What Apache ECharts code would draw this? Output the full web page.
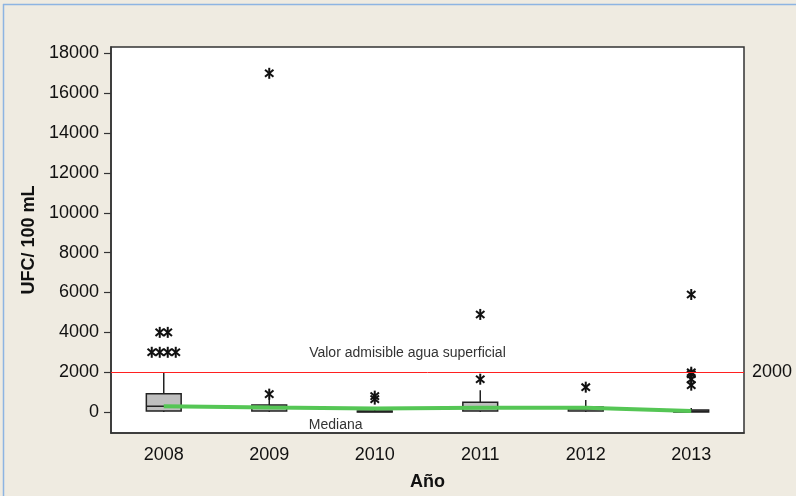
<!DOCTYPE html>
<html>
<head>
<meta charset="utf-8">
<title>UFC / 100 mL por año</title>
<style>
  body { margin: 0; background: #EFEBE1; }
  #chart { width: 796px; height: 496px; }
</style>
</head>
<body>
<div id="chart"></div>
<script src="https://cdn.jsdelivr.net/npm/echarts@6/dist/echarts.min.js"></script>
<script type="text/javascript">
// años (categorias)
var years = ['2008', '2009', '2010', '2011', '2012', '2013'];
// cajas: [min, Q1, mediana, Q3, max]
var boxes = [
  [0, 50, 290, 920, 2000],
  [0, 50, 200, 350, 650],
  [0, 10, 30, 60, 120],
  [0, 50, 200, 490, 1100],
  [0, 50, 150, 260, 600],
  [0, 10, 40, 100, 200]
];
// valores atipicos por año
var outliers = [
  [3000, 3000, 3000, 3000, 4000, 4000],
  [900, 17000],
  [800, 650],
  [1650, 4900],
  [1250],
  [1350, 1650, 1900, 2000, 5900]
];
// linea verde de medianas (dibujada a mano en el original)
var medianLine = [290, 235, 185, 215, 215, 50];
var yTicks = [0, 2000, 4000, 6000, 8000, 10000, 12000, 14000, 16000, 18000];
var limitValue = 2000;

var FONT = 'Liberation Sans';
var TXT = '#111111';

// datos para las series custom
var boxData = boxes.map(function (b, i) { return [i].concat(b); });
var outData = [];
outliers.forEach(function (list, i) {
  var counts = {};
  list.forEach(function (v) { counts[v] = (counts[v] || 0) + 1; });
  var seen = {};
  list.forEach(function (v) {
    var k = seen[v] || 0;
    seen[v] = k + 1;
    // los repetidos se ponen lado a lado, como hace Minitab
    outData.push([i, v, k - (counts[v] - 1) / 2]);
  });
});

var frame = [
  { type: 'line', shape: { x1: 3.5, y1: 4, x2: 3.5, y2: 496 }, style: { stroke: '#8DB4E2', lineWidth: 1.5 } },
  { type: 'line', shape: { x1: 3, y1: 4.5, x2: 796, y2: 4.5 }, style: { stroke: '#8DB4E2', lineWidth: 1.5 } }
];

var myChart = echarts.init(document.getElementById('chart'));
var option = {
  backgroundColor: '#EFEBE1',
  animation: false,
  grid: {
    left: 111, top: 47, right: 52, bottom: 63,
    show: true, backgroundColor: '#ffffff',
    borderColor: '#333333', borderWidth: 1.5
  },
  xAxis: {
    type: 'category',
    data: years,
    boundaryGap: true,
    name: 'Año',
    nameLocation: 'middle',
    nameGap: 40,
    nameTextStyle: { fontFamily: FONT, fontSize: 18, fontWeight: 'bold', color: TXT },
    axisLine: { onZero: false, lineStyle: { color: '#333333', width: 1.5 } },
    axisTick: { alignWithLabel: true, length: 6, lineStyle: { color: '#333333', width: 1.2 } },
    axisLabel: { margin: 13, fontFamily: FONT, fontSize: 18, color: TXT },
    splitLine: { show: false }
  },
  yAxis: {
    type: 'value',
    min: -1050,
    max: 18320,
    name: 'UFC/ 100 mL',
    nameLocation: 'middle',
    nameGap: 72,
    nameTextStyle: { fontFamily: FONT, fontSize: 18, fontWeight: 'bold', color: TXT },
    axisLine: { show: true, lineStyle: { color: '#333333', width: 1.5 } },
    axisTick: { show: true, length: 7, customValues: yTicks, lineStyle: { color: '#333333', width: 1.2 } },
    axisLabel: { margin: 12, customValues: yTicks, fontFamily: FONT, fontSize: 18, color: TXT,
      formatter: function (v) { return String(v); } },
    splitLine: { show: false }
  },
  series: [
    {
      name: 'cajas',
      type: 'custom',
      z: 2,
      encode: { x: 0, y: [1, 2, 3, 4, 5] },
      data: boxData,
      renderItem: function (params, api) {
        var i = api.value(0);
        var pLo = api.coord([i, api.value(1)]);
        var pQ1 = api.coord([i, api.value(2)]);
        var pMed = api.coord([i, api.value(3)]);
        var pQ3 = api.coord([i, api.value(4)]);
        var pHi = api.coord([i, api.value(5)]);
        var w = api.size([1, 0])[0] * 0.33;
        var cx = pQ1[0];
        var st = { stroke: '#222222', lineWidth: 1.5 };
        return {
          type: 'group',
          children: [
            { type: 'line', shape: { x1: cx, y1: pQ1[1], x2: cx, y2: pLo[1] }, style: st },
            { type: 'line', shape: { x1: cx, y1: pQ3[1], x2: cx, y2: pHi[1] }, style: st },
            { type: 'rect', shape: { x: cx - w / 2, y: pQ3[1], width: w, height: pQ1[1] - pQ3[1] },
              style: { fill: '#BFBFBF', stroke: '#222222', lineWidth: 1.5 } },
            { type: 'line', shape: { x1: cx - w / 2, y1: pMed[1], x2: cx + w / 2, y2: pMed[1] }, style: st }
          ]
        };
      }
    },
    {
      name: 'Mediana',
      type: 'line',
      z: 3,
      data: medianLine,
      symbol: 'none',
      lineStyle: { color: '#55C655', width: 4 },
      markLine: {
        silent: true,
        symbol: 'none',
        data: [
          {
            yAxis: limitValue,
            lineStyle: { color: '#FF2020', width: 1, type: 'solid' },
            label: { show: true, position: 'end', distance: 8, formatter: '2000',
              fontFamily: FONT, fontSize: 18, color: TXT }
          }
        ]
      }
    },
    {
      name: 'atipicos',
      type: 'custom',
      z: 4,
      encode: { x: 0, y: 1 },
      data: outData,
      renderItem: function (params, api) {
        var p = api.coord([api.value(0), api.value(1)]);
        var x = p[0] + api.value(2) * 8;
        var y = p[1];
        var r = 5.5;
        var ang = 40 * Math.PI / 180;
        var dx = r * Math.cos(ang), dy = r * Math.sin(ang);
        var st = { stroke: '#111111', lineWidth: 2 };
        return {
          type: 'group',
          children: [
            { type: 'line', shape: { x1: x, y1: y - r, x2: x, y2: y + r }, style: st },
            { type: 'line', shape: { x1: x - dx, y1: y - dy, x2: x + dx, y2: y + dy }, style: st },
            { type: 'line', shape: { x1: x - dx, y1: y + dy, x2: x + dx, y2: y - dy }, style: st }
          ]
        };
      }
    }
  ],
  graphic: frame
};
myChart.setOption(option);

// textos de anotacion, situados con las escalas del grafico
function between(c1, c2, t, v) {
  var a = myChart.convertToPixel({ xAxisIndex: 0, yAxisIndex: 0 }, [c1, v]);
  var b = myChart.convertToPixel({ xAxisIndex: 0, yAxisIndex: 0 }, [c2, v]);
  return [a[0] + t * (b[0] - a[0]), a[1]];
}
var pVal = between('2010', '2011', 0.31, 2975);
var pMed = between('2009', '2010', 0.63, -650);
myChart.setOption({
  graphic: frame.concat([
    { type: 'text', x: pVal[0], y: pVal[1],
      style: { text: 'Valor admisible agua superficial', fontFamily: FONT, fontSize: 14, fill: '#333333',
        textAlign: 'center', textVerticalAlign: 'middle' } },
    { type: 'text', x: pMed[0], y: pMed[1],
      style: { text: 'Mediana', fontFamily: FONT, fontSize: 14, fill: '#333333',
        textAlign: 'center', textVerticalAlign: 'middle' } }
  ])
});
</script>
</body>
</html>
